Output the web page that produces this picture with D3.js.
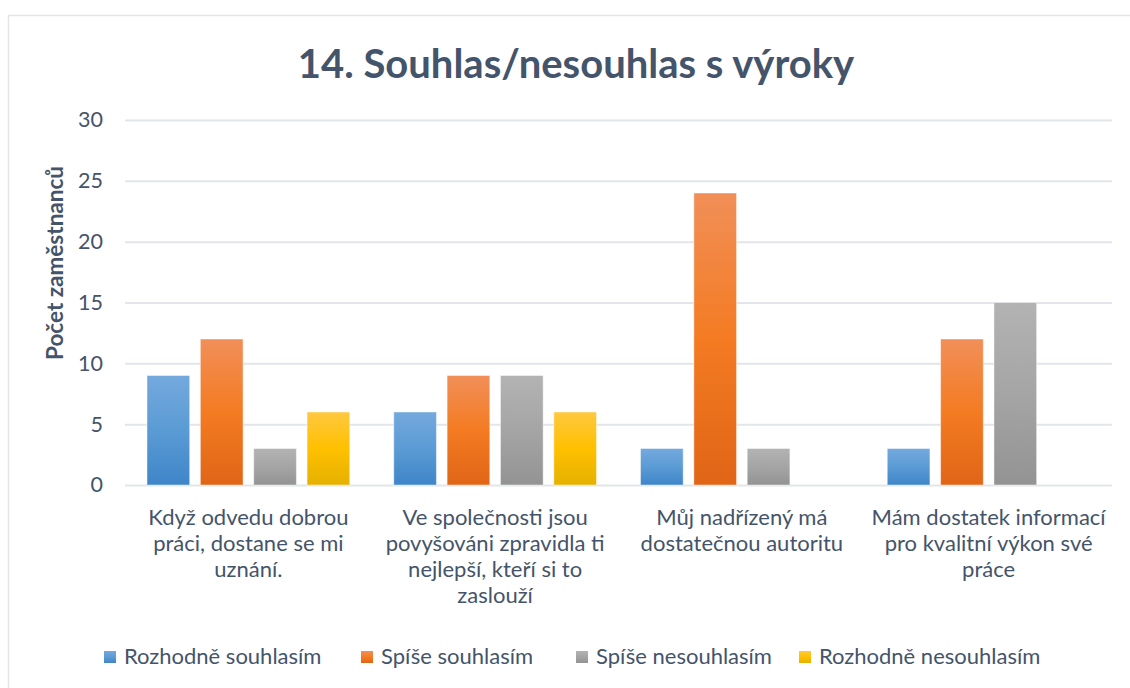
<!DOCTYPE html>
<html>
<head>
<meta charset="utf-8">
<script src="https://cdn.jsdelivr.net/npm/d3@7"></script>
<style>
  body { margin: 0; background: #fff; }
  text { font-family: Lato, "Noto Sans", sans-serif; }
</style>
</head>
<body>
<div id="chart"></div>
<script>
const categories = [
  ['Když odvedu dobrou', 'práci, dostane se mi', 'uznání.'],
  ['Ve společnosti jsou', 'povyšováni zpravidla ti', 'nejlepší, kteří si to', 'zaslouží'],
  ['Můj nadřízený má', 'dostatečnou autoritu'],
  ['Mám dostatek informací', 'pro kvalitní výkon své', 'práce']
];
const seriesNames = ['Rozhodně souhlasím', 'Spíše souhlasím', 'Spíše nesouhlasím', 'Rozhodně nesouhlasím'];
const rozhodneSouhlasim = [9, 6, 3, 3];
const spiseSouhlasim = [12, 9, 24, 12];
const spiseNesouhlasim = [3, 9, 3, 15];
const rozhodneNesouhlasim = [6, 6, 0, 0];
const yTicks = [0, 5, 10, 15, 20, 25, 30];

const seriesValues = [rozhodneSouhlasim, spiseSouhlasim, spiseNesouhlasim, rozhodneNesouhlasim];
// gradient stops per series: top, middle, bottom
const seriesColors = [
  ['#74a9dd', '#5b9bd5', '#3f85c8'],
  ['#f18f58', '#f47b22', '#e06517'],
  ['#b3b3b3', '#a5a5a5', '#939393'],
  ['#ffc840', '#ffc000', '#e5b100']
];

const W = 1130, H = 688;
const margin = {left: 125, right: 18, top: 120, bottom: 203};
const textColor = '#44546a';

const svg = d3.select('#chart').append('svg')
  .attr('width', W).attr('height', H);

// chart frame
svg.append('rect')
  .attr('x', 8.5).attr('y', 15.5).attr('width', 1140).attr('height', 700)
  .attr('fill', '#fff').attr('stroke', '#e2e5ea').attr('stroke-width', 1.5);

const defs = svg.append('defs');
seriesColors.forEach((c, i) => {
  const g = defs.append('linearGradient').attr('id', 'grad' + i)
    .attr('x1', 0).attr('y1', 0).attr('x2', 0).attr('y2', 1);
  g.append('stop').attr('offset', '0%').attr('stop-color', c[0]);
  g.append('stop').attr('offset', '50%').attr('stop-color', c[1]);
  g.append('stop').attr('offset', '100%').attr('stop-color', c[2]);
});

const x0 = d3.scaleBand().domain(d3.range(categories.length))
  .range([margin.left, W - margin.right]).paddingInner(0).paddingOuter(0);
const x1 = d3.scaleBand().domain(d3.range(seriesNames.length))
  .range([22, x0.bandwidth() - 22]).paddingInner(0.2).paddingOuter(0);
const y = d3.scaleLinear().domain([0, 30]).range([H - margin.bottom, margin.top]);

// title
svg.append('text')
  .attr('x', 576).attr('y', 78)
  .attr('text-anchor', 'middle')
  .attr('font-size', 40).attr('font-weight', 'bold')
  .attr('fill', textColor)
  .text('14. Souhlas/nesouhlas s výroky');

// gridlines + y axis
const yAxis = d3.axisLeft(y).tickValues(yTicks)
  .tickSize(-(W - margin.left - margin.right)).tickPadding(22);
const ga = svg.append('g').attr('transform', `translate(${margin.left},0)`).call(yAxis);
ga.select('.domain').remove();
ga.selectAll('.tick line').attr('stroke', '#e2e5ea').attr('stroke-width', 2);
ga.selectAll('.tick text').attr('font-size', 21.5).attr('fill', textColor)
  .style('font-family', 'Lato, "Noto Sans", sans-serif');

svg.append('text')
  .attr('transform', 'translate(63,263) rotate(-90)')
  .attr('text-anchor', 'middle')
  .attr('font-size', 22.5).attr('font-weight', 'bold')
  .attr('fill', textColor)
  .text('Počet zaměstnanců');

// bars
const groups = svg.selectAll('.grp').data(categories).join('g')
  .attr('class', 'grp')
  .attr('transform', (d, i) => `translate(${x0(i)},0)`);

groups.selectAll('rect')
  .data((d, i) => seriesValues.map((s, k) => ({k, v: s[i]})).filter(e => e.v > 0))
  .join('rect')
  .attr('x', e => x1(e.k))
  .attr('width', x1.bandwidth())
  .attr('y', e => y(e.v))
  .attr('height', e => y(0) - y(e.v))
  .attr('fill', e => `url(#grad${e.k})`)
  .attr('stroke', 'rgba(255,255,255,0.45)')
  .attr('stroke-width', 1);

// category labels
groups.append('text')
  .attr('text-anchor', 'middle')
  .attr('font-size', 22)
  .attr('fill', textColor)
  .each(function(lines) {
    const t = d3.select(this);
    lines.forEach((ln, j) => {
      t.append('tspan').attr('x', x0.bandwidth() / 2).attr('y', 525 + j * 26).text(ln);
    });
  });

// legend
const legendX = [104, 361, 576, 799];
const lg = svg.selectAll('.lg').data(seriesNames).join('g')
  .attr('class', 'lg')
  .attr('transform', (d, i) => `translate(${legendX[i]},651)`);
lg.append('rect').attr('width', 12).attr('height', 12)
  .attr('fill', (d, i) => `url(#grad${i})`);
lg.append('text').attr('x', 20).attr('y', 13)
  .attr('font-size', 22).attr('fill', textColor)
  .text(d => d);
</script>
</body>
</html>
